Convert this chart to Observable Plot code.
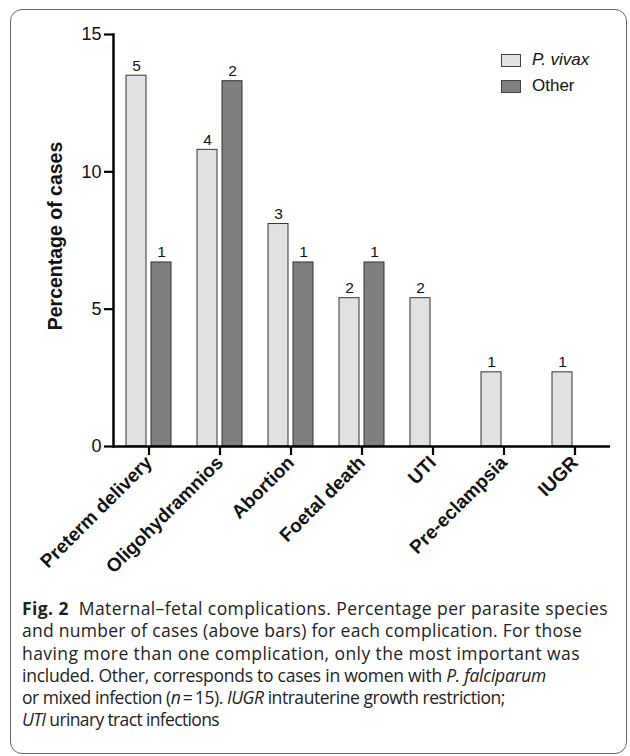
<!DOCTYPE html>
<html>
<head>
<meta charset="utf-8">
<script src="https://cdn.jsdelivr.net/npm/d3@7"></script>
<script src="https://cdn.jsdelivr.net/npm/@observablehq/plot@0.6"></script>
<style>
  html, body { margin: 0; padding: 0; background: #fff; }
  #wrap { position: relative; width: 630px; height: 756px; overflow: hidden; font-family: "Liberation Sans", Arial, sans-serif; }
  #frame { position: absolute; left: 10px; top: 9px; width: 617px; height: 745px; border: 1px solid #666; border-radius: 12px; box-sizing: border-box; }
  #chart { position: absolute; left: 0; top: 0; }
  #ylabel { position: absolute; left: 55px; top: 236px; transform: translate(-50%, -50%) rotate(-90deg); font-weight: bold; font-size: 19.5px; white-space: nowrap; color: #111; }
  #legend { position: absolute; left: 501px; top: 47px; font-size: 17px; color: #111; }
  .li { display: flex; align-items: center; height: 26px; }
  .sw { width: 20px; height: 13px; border: 1px solid #444; box-sizing: border-box; margin-right: 11px; }
  #caption { position: absolute; left: 22px; top: 597px; font-family: "Open Sans", Roboto, sans-serif; font-size: 17.5px; line-height: 22.3px; color: #222; white-space: nowrap; }
  #caption .cl { display: block; width: max-content; }
</style>
</head>
<body>
<div id="wrap">
  <div id="frame"></div>
  <div id="chart"></div>
  <div id="ylabel">Percentage of cases</div>
  <div id="legend"></div>
  <div id="caption">
    <div class="cl" data-w="586"><b>Fig. 2</b>&nbsp; Maternal–fetal complications. Percentage per parasite species</div>
    <div class="cl" data-w="560">and number of cases (above bars) for each complication. For those</div>
    <div class="cl" data-w="558">having more than one complication, only the most important was</div>
    <div class="cl" data-w="524">included. Other, corresponds to cases in women with <i>P. falciparum</i></div>
    <div class="cl" data-w="483">or mixed infection (<i>n</i>&thinsp;=&thinsp;15). <i>IUGR</i> intrauterine growth restriction;</div>
    <div class="cl" data-w="197"><i>UTI</i> urinary tract infections</div>
  </div>
</div>
<script>
const categories = ["Preterm delivery", "Oligohydramnios", "Abortion", "Foetal death", "UTI", "Pre-eclampsia", "IUGR"];
const series = ["P. vivax", "Other"];
const vivaxPct = [13.5, 10.8, 8.1, 5.4, 5.4, 2.7, 2.7];
const otherPct = [6.7, 13.3, 6.7, 6.7, null, null, null];
const vivaxN = [5, 4, 3, 2, 2, 1, 1];
const otherN = [1, 2, 1, 1, null, null, null];
const yTicks = [0, 5, 10, 15];
const colors = ["#e0e1e0", "#7f7f7f"];

const rows = [];
categories.forEach((c, i) => {
  if (vivaxPct[i] != null) rows.push({cat: c, series: series[0], value: vivaxPct[i], n: vivaxN[i]});
  if (otherPct[i] != null) rows.push({cat: c, series: series[1], value: otherPct[i], n: otherN[i]});
});

const chart = Plot.plot({
  width: 630,
  height: 590,
  marginLeft: 112,
  marginRight: 19,
  marginTop: 34,
  marginBottom: 144,
  style: {fontFamily: "'Liberation Sans', Arial, sans-serif", background: "transparent", overflow: "visible", color: "#111"},
  fx: {domain: categories, padding: 0, label: null},
  x: {domain: series, paddingInner: 0.19, paddingOuter: 0.5, axis: null},
  y: {domain: [0, 15], label: null},
  color: {domain: series, range: colors},
  marks: [
    Plot.barY(rows, {fx: "cat", x: "series", y: "value", fill: "series", stroke: "#333", strokeWidth: 1}),
    Plot.text(rows, {fx: "cat", x: "series", y: "value", text: "n", dy: -10, fontSize: 15.5, fill: "#111"}),
    Plot.ruleY([0], {stroke: "#000", strokeWidth: 2.5}),
    Plot.frame({anchor: "left", facet: "super", stroke: "#000", strokeWidth: 2.5}),
    Plot.axisY({ticks: yTicks, tickSize: 9, tickPadding: 3, strokeWidth: 2.2, fontSize: 18, label: null, stroke: "#000"}),
    Plot.axisFx({anchor: "bottom", tickSize: 9, tickPadding: 4, strokeWidth: 2.2, tickRotate: -45, fontSize: 19, fontWeight: "bold", label: null, stroke: "#000"})
  ]
});
document.getElementById("chart").appendChild(chart);

const legend = document.getElementById("legend");
series.forEach((s, i) => {
  const row = document.createElement("div");
  row.className = "li";
  const sw = document.createElement("div");
  sw.className = "sw";
  sw.style.background = colors[i];
  const t = document.createElement("span");
  t.textContent = s;
  if (i === 0) t.style.fontStyle = "italic";
  row.appendChild(sw);
  row.appendChild(t);
  legend.appendChild(row);
});

// fit each caption line to the width it has in the reference layout
document.querySelectorAll("#caption .cl").forEach(el => {
  const target = +el.dataset.w;
  const n = el.textContent.length;
  const w = el.getBoundingClientRect().width;
  el.style.letterSpacing = ((target - w) / n) + "px";
});
</script>
</body>
</html>
